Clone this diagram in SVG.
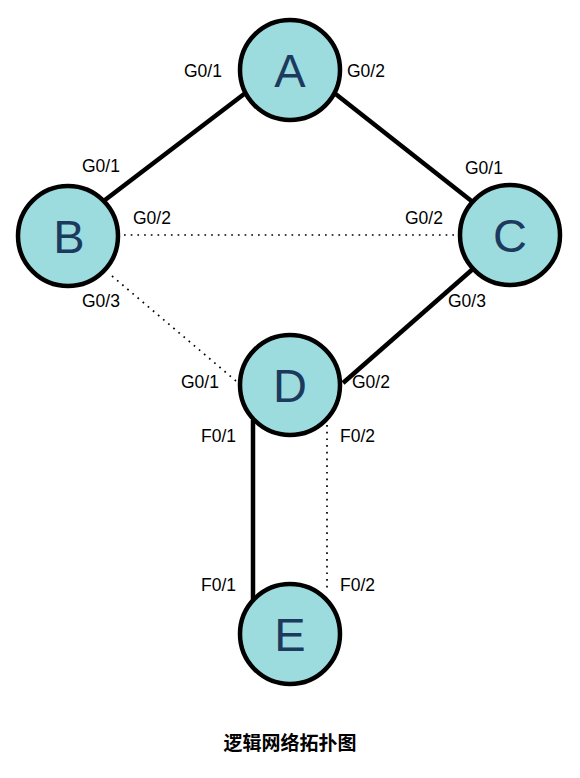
<svg xmlns="http://www.w3.org/2000/svg" width="580" height="778" viewBox="0 0 580 778">
<style>
.node{fill:#9ddcde;stroke:#000;stroke-width:4.5}
.nl{font-family:"Liberation Sans",Arial,sans-serif;font-size:47px;fill:#1b3a5e;text-anchor:middle}
.lbl{font-family:"Liberation Sans",Arial,sans-serif;font-size:17.5px;fill:#000}
.solid{stroke:#000;stroke-width:4.5;fill:none}
.dot{stroke:#000;stroke-width:1.7;stroke-dasharray:1.7 5;fill:none}
.title{font-family:"Liberation Sans","Noto Sans CJK SC",sans-serif;font-size:19px;font-weight:bold;text-anchor:middle;fill:#000}
</style>
<rect width="580" height="778" fill="#fff"/>
<g id="connectors">
<line class="solid" x1="105" y1="200" x2="252" y2="88"/>
<line class="solid" x1="328" y1="88" x2="474" y2="203"/>
<line class="dot" x1="124" y1="235" x2="456" y2="235"/>
<line class="dot" x1="112" y1="276" x2="236" y2="381"/>
<line class="solid" x1="474" y1="268" x2="343" y2="383"/>
<line class="solid" x1="253" y1="420" x2="253" y2="600"/>
<line class="dot" x1="327" y1="425" x2="327" y2="592"/>
</g>
<g id="A"><circle class="node" cx="290" cy="70" r="50"/><text class="nl" x="290" y="87">A</text></g>
<g id="B"><circle class="node" cx="68" cy="236" r="50"/><text class="nl" x="69" y="253">B</text></g>
<g id="C"><circle class="node" cx="510" cy="235" r="50"/><text class="nl" x="510" y="252">C</text></g>
<g id="D"><circle class="node" cx="290" cy="385" r="50"/><text class="nl" x="290" y="402">D</text></g>
<g id="E"><circle class="node" cx="290" cy="634" r="50"/><text class="nl" x="290" y="651">E</text></g>
<g id="labels">
<text class="lbl" x="184" y="77">G0/1</text>
<text class="lbl" x="347" y="77">G0/2</text>
<text class="lbl" x="82" y="172">G0/1</text>
<text class="lbl" x="133" y="224">G0/2</text>
<text class="lbl" x="82" y="307">G0/3</text>
<text class="lbl" x="465" y="174">G0/1</text>
<text class="lbl" x="405" y="224">G0/2</text>
<text class="lbl" x="448" y="307">G0/3</text>
<text class="lbl" x="181" y="388">G0/1</text>
<text class="lbl" x="352" y="388">G0/2</text>
<text class="lbl" x="201" y="442">F0/1</text>
<text class="lbl" x="340" y="442">F0/2</text>
<text class="lbl" x="201" y="591">F0/1</text>
<text class="lbl" x="340" y="591">F0/2</text>
</g>
<text class="title" x="290" y="750">逻辑网络拓扑图</text>
</svg>
